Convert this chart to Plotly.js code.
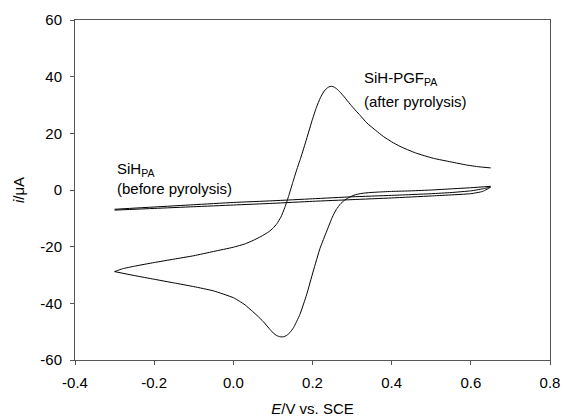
<!DOCTYPE html>
<html>
<head>
<meta charset="utf-8">
<script src="https://cdn.plot.ly/plotly-3.0.1.min.js"></script>
<style>html,body{margin:0;padding:0;background:#fff;}#chart{width:563px;height:419px;}</style>
</head>
<body>
<div id="chart"></div>
<script>
// SiH-PGF_PA (after pyrolysis): anodic (forward) sweep
var pgfForwardE = [-0.30, -0.28, -0.25, -0.20, -0.15, -0.10, -0.05, 0.00, 0.03, 0.05, 0.07, 0.09, 0.10, 0.11, 0.12, 0.13, 0.14, 0.15, 0.16, 0.17, 0.185, 0.20, 0.21, 0.22, 0.23, 0.24, 0.248, 0.255, 0.262, 0.27, 0.28, 0.295, 0.31, 0.32, 0.337, 0.36, 0.379, 0.40, 0.421, 0.46, 0.505, 0.55, 0.59, 0.62, 0.65];
var pgfForwardI = [-28.8, -27.8, -26.9, -25.6, -24.4, -23.2, -21.7, -20.2, -19.0, -17.8, -16.4, -14.7, -13.5, -11.9, -9.6, -6.2, -2.0, 2.6, 7.1, 11.2, 18.0, 25.0, 29.2, 32.6, 35.0, 36.3, 36.6, 36.3, 35.6, 34.5, 32.9, 30.3, 27.9, 26.4, 23.7, 21.0, 18.9, 17.0, 15.4, 13.1, 11.2, 9.9, 8.8, 8.2, 7.8];
// SiH-PGF_PA (after pyrolysis): cathodic (reverse) sweep
var pgfReverseE = [0.65, 0.60, 0.55, 0.50, 0.45, 0.40, 0.37, 0.345, 0.325, 0.31, 0.30, 0.29, 0.28, 0.27, 0.26, 0.25, 0.236, 0.219, 0.202, 0.185, 0.168, 0.152, 0.143, 0.135, 0.127, 0.118, 0.11, 0.101, 0.09, 0.076, 0.06, 0.045, 0.03, 0.015, 0.00, -0.05, -0.10, -0.15, -0.20, -0.25, -0.30];
var pgfReverseI = [1.3, 0.8, 0.4, 0.0, -0.3, -0.5, -0.7, -0.9, -1.2, -1.6, -2.1, -2.8, -3.7, -5.0, -6.9, -9.6, -14.5, -20.6, -28.6, -37.0, -44.0, -48.6, -50.3, -51.3, -51.8, -51.8, -51.4, -50.5, -48.8, -46.5, -44.3, -42.4, -40.6, -39.2, -38.0, -35.6, -34.1, -32.8, -31.5, -30.2, -28.8];
// SiH_PA (before pyrolysis): forward then reverse sweep
var sihE = [-0.30, -0.20, -0.10, 0.00, 0.10, 0.20, 0.30, 0.40, 0.50, 0.55, 0.60, 0.63, 0.65, 0.63, 0.60, 0.50, 0.40, 0.30, 0.20, 0.10, 0.00, -0.10, -0.20, -0.30];
var sihI = [-6.8, -6.0, -5.2, -4.4, -3.8, -3.1, -2.4, -1.9, -1.3, -0.9, -0.3, 0.4, 1.0, -0.5, -1.3, -2.1, -2.8, -3.4, -4.0, -4.7, -5.3, -5.9, -6.5, -7.1];

var xTicks = [-0.4, -0.2, 0.0, 0.2, 0.4, 0.6, 0.8];
var yTicks = [-60, -40, -20, 0, 20, 40, 60];

var lineStyle = {color: '#000000', width: 1, shape: 'spline', smoothing: 0.45};
var traces = [
  {x: pgfForwardE, y: pgfForwardI, mode: 'lines', line: lineStyle, showlegend: false, hoverinfo: 'skip'},
  {x: pgfReverseE, y: pgfReverseI, mode: 'lines', line: lineStyle, showlegend: false, hoverinfo: 'skip'},
  {x: sihE, y: sihI, mode: 'lines', line: lineStyle, showlegend: false, hoverinfo: 'skip'}
];

var font = {family: 'Arial, "Liberation Sans", sans-serif', size: 15, color: '#000'};
var axisCommon = {
  showgrid: false, zeroline: false, showline: true, mirror: true,
  linecolor: '#555', linewidth: 1, ticks: 'outside', ticklen: 4, tickcolor: '#555',
  tickfont: font
};
var layout = {
  width: 563, height: 419,
  margin: {l: 75, r: 13, t: 20, b: 59, pad: 0},
  paper_bgcolor: '#fff', plot_bgcolor: '#fff',
  font: font,
  xaxis: Object.assign({}, axisCommon, {
    range: [-0.4, 0.8], tickvals: xTicks, ticktext: xTicks.map(function(v){return v.toFixed(1);}),
    ticklabelstandoff: 5,
    title: {text: '<i>E</i>/V vs. SCE', font: font, standoff: 13}
  }),
  yaxis: Object.assign({}, axisCommon, {
    range: [-60, 60], tickvals: yTicks, ticktext: yTicks.map(String),
    ticklabelstandoff: 5,
    title: {text: '<i>i</i>/μA', font: font, standoff: 12}
  }),
  annotations: [
    {x: 0.324, y: 39.5, xref: 'x', yref: 'y', xanchor: 'left', yanchor: 'middle', showarrow: false, align: 'left', text: 'SiH-PGF<sub>PA</sub>', font: font},
    {x: 0.324, y: 31.2, xref: 'x', yref: 'y', xanchor: 'left', yanchor: 'middle', showarrow: false, align: 'left', text: '(after pyrolysis)', font: font},
    {x: -0.298, y: 7.3, xref: 'x', yref: 'y', xanchor: 'left', yanchor: 'middle', showarrow: false, align: 'left', text: 'SiH<sub>PA</sub>', font: font},
    {x: -0.298, y: 0.6, xref: 'x', yref: 'y', xanchor: 'left', yanchor: 'middle', showarrow: false, align: 'left', text: '(before pyrolysis)', font: font}
  ]
};
Plotly.newPlot('chart', traces, layout, {staticPlot: true, displayModeBar: false});
</script>
</body>
</html>
